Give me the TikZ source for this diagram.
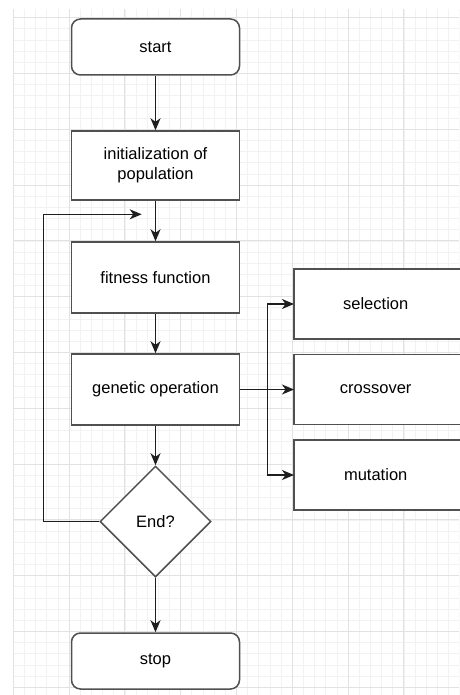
\documentclass[tikz,border=0pt]{standalone}
\usepackage{fontspec}
\setmainfont{Liberation Sans}
\usetikzlibrary{arrows.meta,shapes.geometric,matrix}
\definecolor{gridminor}{HTML}{F2F2F2}
\definecolor{gridmajor}{HTML}{E2E2E2}
\definecolor{boxline}{HTML}{505050}
\definecolor{arrowline}{HTML}{1E1E1E}

\begin{document}
\begin{tikzpicture}[
x=1pt, y=-1pt,
font=\fontsize{16.5}{20}\selectfont,
box/.style={draw=boxline, line width=1.5pt, fill=white, minimum width=168pt, align=center, inner sep=0pt},
terminal/.style={box, rounded corners=9pt, minimum height=56pt},
process/.style={box, minimum height=70pt},
decision/.style={diamond, draw=boxline, line width=1.5pt, fill=white, aspect=1, minimum size=111pt, inner sep=0pt},
flow/.style={draw=arrowline, line width=1.3pt, -{Stealth[length=12pt, width=10pt, inset=3.5pt]}},
link/.style={draw=arrowline, line width=1.3pt},
options/.style={
    matrix of nodes,
    inner sep=0pt, outer sep=0pt,
    nodes={process, anchor=center},
    row sep=14pt,
},
]

\useasboundingbox (0,0) rectangle (459,695);

% background grid
\begin{scope}
\clip (13,9) rectangle (459,695);
\foreach \k in {0,...,40} \draw[gridminor, line width=0.8pt] (13.3+11.16*\k,9) -- (13.3+11.16*\k,695);
\foreach \k in {0,...,61} \draw[gridminor, line width=0.8pt] (13,17.7+11.16*\k) -- (459,17.7+11.16*\k);
\foreach \k in {0,...,8} \draw[gridmajor, line width=1pt] (13.3+55.8*\k,9) -- (13.3+55.8*\k,695);
\foreach \k in {0,...,12} \draw[gridmajor, line width=1pt] (13,17.7+55.8*\k) -- (459,17.7+55.8*\k);
\end{scope}

\node[terminal] (start) at (155.5,47) {start};
\node[process, minimum height=69pt] (init) at (155.5,165.5) {initialization of\\population};
\node[process, minimum height=71pt] (fitness) at (155.5,277.5) {fitness function};
\node[process, minimum height=71pt] (genetic) at (155.5,389.5) {genetic operation};
\node[decision] (end) at (155.5,521.5) {End?};
\node[terminal] (stop) at (155.5,661) {stop};

\matrix[options] (ops) at (378,389.5) {
  selection \\
  crossover \\
  mutation \\
};

\coordinate (loop) at (43.3,214.3);
\coordinate (back) at (141.7,214.3);
\coordinate (split) at (267.7,389.5);

\draw[flow] (start) -- (init);
\draw[flow] (init) -- (fitness);
\draw[flow] (fitness) -- (genetic);
\draw[flow] (genetic) -- (end);
\draw[flow] (end) -- (stop);
\draw[flow] (end.west) -| (loop) -- (back);

\draw[link] (genetic.east) -- (split);
\draw[flow] (split) |- (ops-1-1.west);
\draw[flow] (split) -- (ops-2-1.west);
\draw[flow] (split) |- (ops-3-1.west);
%\draw[flow] (genetic.east) -- (ops-2-1.west);

\end{tikzpicture}
\end{document}
